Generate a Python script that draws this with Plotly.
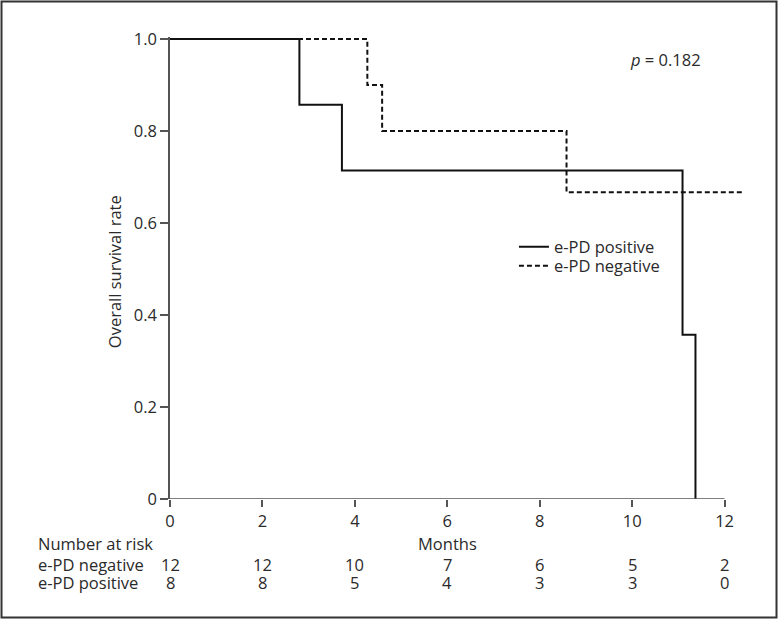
import plotly.graph_objects as go

# Kaplan-Meier step data (months, survival)
pos_time = [0, 2.8, 3.72, 11.09, 11.37]
pos_surv = [1.0, 0.857, 0.714, 0.357, 0.0]
neg_time = [0, 4.27, 4.59, 8.58, 12.43]
neg_surv = [1.0, 0.9, 0.8, 0.667, 0.667]

# Number-at-risk table
risk_months = [0, 2, 4, 6, 8, 10, 12]
risk_neg = [12, 12, 10, 7, 6, 5, 2]
risk_pos = [8, 8, 5, 4, 3, 3, 0]

x_ticks = [0, 2, 4, 6, 8, 10, 12]
y_ticks = [0, 0.2, 0.4, 0.6, 0.8, 1.0]
y_ticktext = ["0", "0.2", "0.4", "0.6", "0.8", "1.0"]

FONT = "Open Sans"
FS = 16.5
TXT = "#2a2a2a"
AX = "#555555"

fig = go.Figure()
fig.add_trace(go.Scatter(x=pos_time, y=pos_surv, mode="lines", line_shape="hv",
                         name="e-PD positive", legend="legend",
                         line=dict(color="#111111", width=2)))
fig.add_trace(go.Scatter(x=neg_time, y=neg_surv, mode="lines", line_shape="hv",
                         name="e-PD negative", legend="legend2",
                         line=dict(color="#111111", width=2, dash="5px,3px")))

annotations = []
for m, n in zip(risk_months, risk_neg):
    annotations.append(dict(x=m, xref="x", y=-0.1407, yref="paper", text=str(n),
                            showarrow=False, xanchor="center", yanchor="middle"))
for m, n in zip(risk_months, risk_pos):
    annotations.append(dict(x=m, xref="x", y=-0.1818, yref="paper", text=str(n),
                            showarrow=False, xanchor="center", yanchor="middle"))
annotations += [
    dict(x=-0.231, xref="paper", y=-0.0974, yref="paper", text="Number at risk",
         showarrow=False, xanchor="left", yanchor="middle"),
    dict(x=-0.231, xref="paper", y=-0.1407, yref="paper", text="e-PD negative",
         showarrow=False, xanchor="left", yanchor="middle"),
    dict(x=-0.231, xref="paper", y=-0.1818, yref="paper", text="e-PD positive",
         showarrow=False, xanchor="left", yanchor="middle"),
    dict(x=6, xref="x", y=-0.0974, yref="paper", text="Months",
         showarrow=False, xanchor="center", yanchor="middle"),
    dict(x=-0.0965, xref="paper", y=0.491, yref="paper", text="Overall survival rate",
         showarrow=False, textangle=-90, xanchor="center", yanchor="middle"),
    dict(x=0.855, xref="paper", y=0.952, yref="paper", text="<i>p</i> = 0.182",
         showarrow=False, xanchor="center", yanchor="middle"),
]

shapes = [
    # x axis line from 0 to 12 months
    dict(type="line", xref="x", yref="y", x0=x_ticks[0], x1=x_ticks[-1], y0=0, y1=0,
         line=dict(color=AX, width=1.5)),
    # outer frame
    dict(type="rect", xref="paper", yref="paper", x0=-0.2905, x1=1.0457,
         y0=-0.2565, y1=1.0768, line=dict(color="#333333", width=2)),
]

leg_common = dict(xanchor="left", yanchor="top", bgcolor="rgba(0,0,0,0)",
                  font=dict(family=FONT, size=FS, color=TXT))

fig.update_layout(
    width=778, height=619,
    margin=dict(l=170, r=28, t=37, b=120),
    paper_bgcolor="white", plot_bgcolor="white",
    font=dict(family=FONT, size=FS, color=TXT),
    showlegend=True,
    legend=dict(x=0.593, y=0.5835, **leg_common),
    legend2=dict(x=0.593, y=0.5424, **leg_common),
    annotations=annotations,
    shapes=shapes,
    xaxis=dict(range=[0, 12.55], showline=False, showgrid=False, zeroline=False,
               tickmode="array", tickvals=x_ticks, ticks="outside", ticklen=7,
               tickwidth=1.5, tickcolor=AX, tickfont=dict(family=FONT, size=FS, color=TXT)),
    yaxis=dict(range=[0, 1.0043], showline=True, linecolor=AX, linewidth=1.5,
               showgrid=False, zeroline=False, tickmode="array", tickvals=y_ticks,
               ticktext=y_ticktext, ticks="outside", ticklen=8, tickwidth=1.5,
               tickcolor=AX, tickfont=dict(family=FONT, size=FS, color=TXT)),
)

fig.write_html("out.html", config={"displayModeBar": False},
               post_script="document.body.style.margin='0';document.body.style.overflow='hidden';")
